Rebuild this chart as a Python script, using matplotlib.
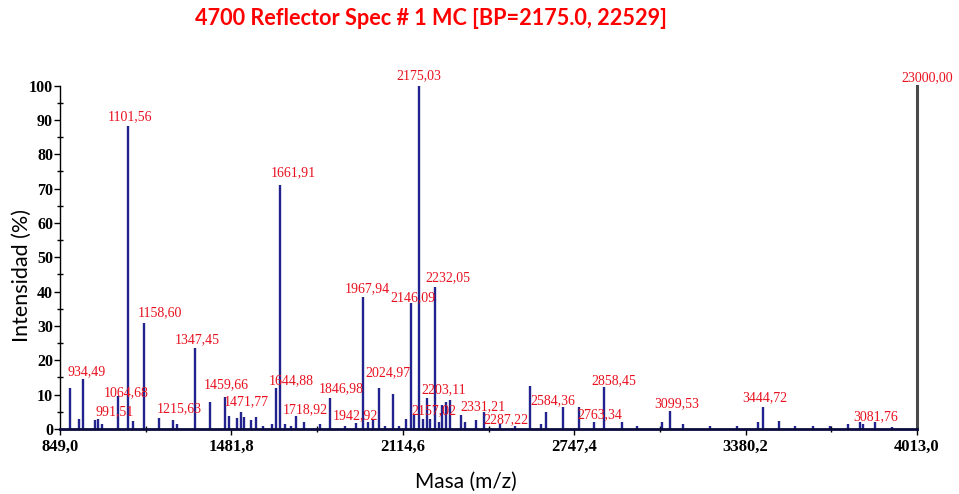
import matplotlib
matplotlib.use("Agg")
import matplotlib.pyplot as plt
from matplotlib.ticker import FixedLocator, MultipleLocator

# Peaks: m/z and relative intensity (%)
peak_mz = [886, 920, 933, 978, 991, 1005, 1064, 1101.56, 1120, 1158.6,
           1215.6, 1265, 1280, 1347.45, 1403, 1459.66, 1471.77, 1501, 1516, 1528,
           1553, 1573, 1600, 1631, 1644.88, 1661.91, 1680, 1700, 1718.92, 1750,
           1809, 1846.98, 1901, 1942.92, 1967.94, 1987, 2006, 2024.97, 2050, 2080,
           2100, 2126, 2146.09, 2157.02, 2175.03, 2190, 2203.11, 2215, 2232.05, 2248,
           2259, 2274, 2287.22, 2331.21, 2344, 2386, 2413, 2473, 2530, 2584.36,
           2623, 2642, 2707, 2763.34, 2820, 2858.45, 2923, 2980, 3070, 3099.53,
           3150, 3250, 3350, 3427, 3444.72, 3505, 3563, 3630, 3692, 3757,
           3802, 3812, 3858, 3920]
peak_int = [12, 2.8, 14.5, 2.5, 2.8, 1.5, 9.5, 88.2, 2.2, 31,
            3.2, 2.5, 1.5, 23.7, 7.8, 9.2, 3.9, 3.2, 5, 3.5,
            2.5, 3.5, 1, 1.5, 11.8, 71.1, 1.5, 1, 3.8, 2,
            1.5, 9, 1, 1.8, 38.5, 2, 2.5, 12, 1, 10.3,
            1, 2.8, 36.7, 4, 99.8, 3, 9, 3, 41.2, 2,
            7, 7.8, 8.4, 4.2, 2, 2.5, 5, 1.5, 0.8, 12.4,
            1.5, 5, 6.3, 6.4, 2, 12.3, 2, 0.8, 2, 5.1,
            1.5, 0.8, 1, 2, 6.5, 2.2, 1, 1, 0.8, 1.5,
            2, 1.5, 2, 0.6]

# Peak annotations as printed in the spectrum (text and where it sits)
label_text = ["1101,56", "1661,91", "1158,60", "1347,45", "934,49", "1064,68",
              "991,51", "1215,63", "1459,66", "1471,77", "1644,88", "1718,92",
              "1846,98", "1942,92", "1967,94", "2024,97", "2146,09", "2175,03",
              "2232,05", "2203,11", "2157,02", "2331,21", "2287,22", "2584,36",
              "2763,34", "2858,45", "3099,53", "3444,72", "3081,76", "23000,00"]
label_mz = [1107, 1710, 1216, 1354, 948, 1093,
            1052, 1289, 1464, 1538, 1702, 1754,
            1889, 1938, 1984, 2059, 2151, 2174,
            2280, 2264, 2231, 2412, 2496, 2670,
            2843, 2894, 3126, 3452, 3861, 4051]
label_int = [91.0, 74.6, 33.9, 26.1, 16.7, 10.7,
             5.0, 5.8, 12.8, 7.9, 14.0, 5.5,
             11.6, 3.8, 40.9, 16.5, 38.3, 102.9,
             44.1, 11.5, 5.3, 6.5, 2.8, 8.2,
             4.1, 14.2, 7.4, 9.2, 3.6, 102.4]

x_ticks = [849.0, 1481.8, 2114.6, 2747.4, 3380.2, 4013.0]
x_tick_labels = ["849,0", "1481,8", "2114,6", "2747,4", "3380,2", "4013,0"]
y_ticks = [0, 10, 20, 30, 40, 50, 60, 70, 80, 90, 100]

title = "4700 Reflector Spec # 1 MC [BP=2175.0, 22529]"

fig = plt.figure(figsize=(9.59, 4.94), dpi=100)
ax = fig.add_axes([0.0626, 0.1316, 0.8936, 0.6953])

ax.vlines(peak_mz, 0, peak_int, color="#23238f", linewidth=1.7)

ax.set_xlim(x_ticks[0], x_ticks[-1])
ax.set_ylim(0, 100)

ax.xaxis.set_major_locator(FixedLocator(x_ticks))
ax.set_xticklabels(x_tick_labels)
minor_x = [(a + b) / 2 for a, b in zip(x_ticks[:-1], x_ticks[1:])]
ax.xaxis.set_minor_locator(FixedLocator(minor_x))
ax.yaxis.set_major_locator(FixedLocator(y_ticks))
ax.yaxis.set_minor_locator(MultipleLocator(5))

tick_font = {"family": "Liberation Serif", "weight": "bold"}
for lab in ax.get_xticklabels():
    lab.set_fontproperties(tick_font)
    lab.set_fontsize(12)
for lab in ax.get_yticklabels():
    lab.set_fontproperties(tick_font)
    lab.set_fontsize(11.5)

ax.tick_params(axis="x", which="major", direction="out", length=4, width=1, pad=3)
ax.tick_params(axis="x", which="minor", direction="inout", length=5, width=1)
ax.tick_params(axis="y", which="major", direction="out", length=4, width=1, pad=1)
ax.tick_params(axis="y", which="minor", direction="inout", length=4, width=1)

ax.spines["top"].set_visible(False)
ax.spines["left"].set_linewidth(1.0)
ax.spines["bottom"].set_linewidth(2.0)
ax.spines["bottom"].set_color("#0a0a3c")
ax.spines["right"].set_linewidth(2.2)
ax.spines["right"].set_color("#4a4a4a")

for txt, mz, y in zip(label_text, label_mz, label_int):
    ax.text(mz, y, txt, color="#e8101e", fontsize=10, family="Liberation Serif",
            ha="center", va="center", clip_on=False)

fig.text(466 / 959, 1 - 482 / 494, "Masa (m/z)", family="Lato", fontsize=15,
         ha="center", va="center")
fig.text(22 / 959, 1 - 275 / 494, "Intensidad (%)", family="Lato", fontsize=15.5,
         rotation=90, ha="center", va="center")

fig.text(0.449, 0.962, title, color="#ff0000", family="Lato", weight="bold",
         fontsize=15.6, ha="center", va="center")

fig.savefig("out.png", dpi=100)
